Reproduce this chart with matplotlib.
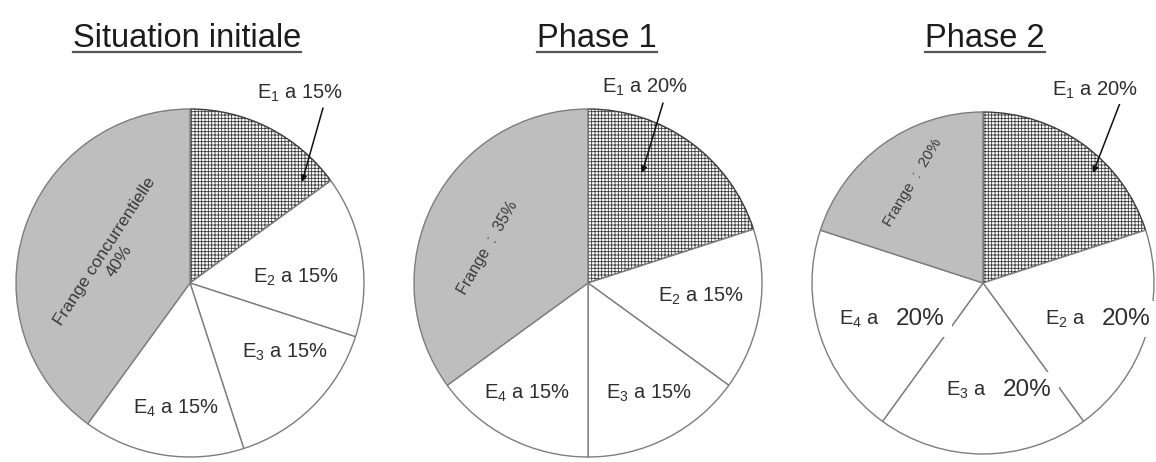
import matplotlib.pyplot as plt
from matplotlib.lines import Line2D

plt.rcParams['font.family'] = ['Liberation Sans', 'DejaVu Sans']
plt.rcParams['hatch.linewidth'] = 0.6

# parts de marche (%) : E1, E2, E3, E4, frange concurrentielle
firms = ['1', '2', '3', '4']
initiale = [15, 15, 15, 15, 40]
phase1 = [20, 15, 15, 15, 35]
phase2 = [20, 20, 20, 20, 20]
titles = ['Situation initiale', 'Phase 1', 'Phase 2']
frange_text = ['Frange concurrentielle\n{}%', 'Frange  :  {}%', 'Frange  :  {}%']

W, H = 1156, 462
fig = plt.figure(figsize=(W / 100, H / 100), dpi=100)
ax = fig.add_axes([0, 0, 1, 1])

centers = [(190, 283), (588, 283), (983, 283)]
radii = [174, 174, 171]
title_x = [187, 597, 985]

# positions des etiquettes E1..E4 (point de separation "E a" / valeur)
label_pos = [
    [(300, 93), (296, 277), (285, 352), (176, 408)],
    [(645, 87), (701, 296), (649, 393), (527, 393)],
    [(1095, 90), (1094, 318), (995, 389), (888, 318)],
]
frange_pos = [(112, 256, 57, 12.5), (488, 248, 60, 11.5), (913, 183, 59, 11)]
arrows = [((323, 108), (302, 182)), ((663, 103), (642, 173)), ((1120, 103), (1093, 173))]

txt_col = '#2e2e2e'
box = dict(boxstyle='square,pad=0.15', fc='white', ec='none')

for k, vals in enumerate([initiale, phase1, phase2]):
    wedges, _ = ax.pie(vals, center=centers[k], radius=radii[k],
                       startangle=-90, counterclock=True,
                       colors=['white'] * 4 + ['#bebebe'],
                       wedgeprops=dict(edgecolor='#7d7d7d', linewidth=1))
    wedges[0].set_hatch('+++++')
    wedges[0].set_edgecolor('#3c3c3c')

    for i, f in enumerate(firms):
        x, y = label_pos[k][i]
        if k == 2 and i > 0:
            # derniere phase : valeur en plus grand, meme ligne de base
            ax.text(x - 8, y + 7, r'$\mathregular{E_%s}$ a' % f, fontsize=14.5,
                    ha='right', va='baseline', color=txt_col, bbox=box, zorder=5)
            ax.text(x + 8, y + 7, '%d%%' % vals[i], fontsize=17.5,
                    ha='left', va='baseline', color=txt_col,
                    bbox=dict(boxstyle='square,pad=0.3', fc='white', ec='none'),
                    zorder=5)
        else:
            ax.text(x, y, r'$\mathregular{E_%s}$ a %d%%' % (f, vals[i]),
                    fontsize=14.5, ha='center', va='center', color=txt_col,
                    bbox=box, zorder=5)

    fx, fy, rot, fs = frange_pos[k]
    ax.text(fx, fy, frange_text[k].format(vals[4]), fontsize=fs, rotation=rot,
            rotation_mode='anchor', ha='center', va='center',
            multialignment='center', color='#3a3a3a', linespacing=1.25)

    (x0, y0), (x1, y1) = arrows[k]
    ax.annotate('', xy=(x1, y1), xytext=(x0, y0),
                arrowprops=dict(arrowstyle='-|>', color='#111111', lw=1.1,
                                mutation_scale=9, shrinkA=0, shrinkB=0))

ax.set_xlim(0, W)
ax.set_ylim(H, 0)
ax.axis('off')

# titres soulignes
title_objs = [fig.text(title_x[k] / W, 1 - 47 / H, t, fontsize=23.5,
                       ha='center', va='baseline', color='#1c1c1c')
              for k, t in enumerate(titles)]
fig.canvas.draw()
inv = fig.transFigure.inverted()
for t in title_objs:
    bb = t.get_window_extent()
    (ux0, uy), (ux1, _) = inv.transform([(bb.x0, H - 52), (bb.x1, H - 52)])
    fig.add_artist(Line2D([ux0, ux1], [uy, uy], color='#555555', lw=1.6))

fig.savefig('out.png', dpi=100, facecolor='white')
